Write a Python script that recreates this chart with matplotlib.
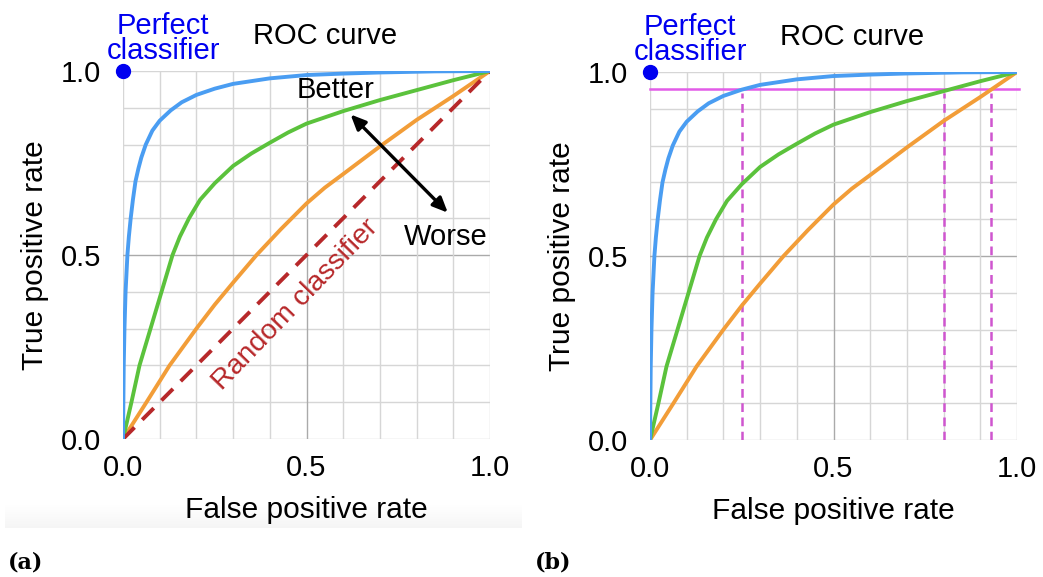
import numpy as np
import matplotlib
matplotlib.use('Agg')
import matplotlib.pyplot as plt

plt.rcParams['font.family'] = ['Liberation Sans', 'DejaVu Sans']

# ROC curves (false positive rate, true positive rate)
fpr_good = [0.0, 0.002, 0.004, 0.007, 0.012, 0.016, 0.021, 0.027, 0.034, 0.042, 0.05, 0.062, 0.08,
            0.1, 0.13, 0.16, 0.2, 0.25, 0.3, 0.4, 0.5, 0.6, 0.7, 0.85, 1.0]
tpr_good = [0.0, 0.2, 0.3, 0.4, 0.5, 0.55, 0.6, 0.65, 0.7, 0.735, 0.765, 0.8, 0.838,
            0.865, 0.893, 0.915, 0.935, 0.952, 0.965, 0.98, 0.989, 0.993, 0.996, 0.999, 1.0]

fpr_mid = [0.0, 0.023, 0.045, 0.075, 0.105, 0.12, 0.135, 0.155, 0.18, 0.21, 0.25, 0.3, 0.35,
           0.4, 0.45, 0.5, 0.6, 0.7, 0.8, 0.9, 1.0]
tpr_mid = [0.0, 0.1, 0.2, 0.3, 0.4, 0.45, 0.5, 0.55, 0.6, 0.65, 0.695, 0.742, 0.776,
           0.805, 0.833, 0.857, 0.891, 0.921, 0.948, 0.975, 1.0]

fpr_weak = [0.0, 0.064, 0.127, 0.2, 0.25, 0.3, 0.364, 0.43, 0.5, 0.55, 0.6, 0.7, 0.8, 0.9, 1.0]
tpr_weak = [0.0, 0.1, 0.2, 0.3, 0.365, 0.425, 0.5, 0.57, 0.64, 0.683, 0.72, 0.795, 0.867, 0.932, 1.0]

tpr_target = 0.953
fpr_at_target = [0.25, 0.8, 0.93]

ticks = [0.0, 0.5, 1.0]
tick_labels = ['0.0', '0.5', '1.0']

c_good = '#4a9df2'
c_mid = '#5bc23c'
c_weak = '#f29d38'
c_rand = '#b7282a'
c_perfect = '#0000f0'

fig = plt.figure(figsize=(10.43, 5.77), dpi=100)

# faint shadow strip under the left panel
shade = fig.add_axes([0.005, 1 - 528 / 577, 0.495, 24 / 577])
shade.imshow(np.linspace(0, 1, 50).reshape(-1, 1), cmap='Greys', vmin=0, vmax=12,
             aspect='auto', extent=[0, 1, 0, 1], origin='upper')
shade.axis('off')


def setup(ax):
    ax.set_xlim(0, 1)
    ax.set_ylim(0, 1)
    for s in ax.spines.values():
        s.set_visible(False)
    for v in np.arange(0, 1.01, 0.1):
        col = '#aaaaaa' if abs(v - 0.5) < 1e-6 else '#d6d6d6'
        ax.axvline(v, color=col, lw=1.0, zorder=0)
        ax.axhline(v, color=col, lw=1.0, zorder=0)
    ax.set_xticks(ticks)
    ax.set_xticklabels(tick_labels)
    ax.set_yticks(ticks)
    ax.set_yticklabels(tick_labels)
    ax.tick_params(length=0, labelsize=21, pad=11)
    ax.tick_params(axis='y', pad=16)
    ax.set_xlabel('False positive rate', fontsize=21.5, labelpad=10)
    ax.set_ylabel('True positive rate', fontsize=21.5, labelpad=8)
    ax.plot(fpr_weak, tpr_weak, color=c_weak, lw=2.8, solid_capstyle='round', zorder=3)
    ax.plot(fpr_mid, tpr_mid, color=c_mid, lw=2.8, solid_capstyle='round', zorder=3)
    ax.plot(fpr_good, tpr_good, color=c_good, lw=2.8, solid_capstyle='round', zorder=4)
    ax.plot([0], [1], 'o', color=c_perfect, ms=10, clip_on=False, zorder=5)
    ax.text(0.11, 1.088, 'Perfect\nclassifier', color=c_perfect, fontsize=21,
            ha='center', va='center', linespacing=0.85, clip_on=False)
    ax.text(0.55, 1.095, 'ROC curve', fontsize=21, ha='center', va='center', clip_on=False)


# (a) curves against the random classifier
ax1 = fig.add_axes([123 / 1043, 1 - 439 / 577, 367 / 1043, 368 / 577])
setup(ax1)
ax1.plot([0, 1], [0, 1], color=c_rand, lw=2.8, dashes=(4.2, 2.8), zorder=3)
ax1.text(0.47, 0.365, 'Random classifier', color=c_rand, fontsize=20.5, rotation=46,
         ha='center', va='center', rotation_mode='anchor')
ax1.annotate('', xy=(0.62, 0.882), xytext=(0.885, 0.615),
             arrowprops=dict(arrowstyle='<|-|>,head_length=0.9,head_width=0.4',
                             color='black', lw=2.4, shrinkA=0, shrinkB=0), zorder=6)
ax1.text(0.58, 0.948, 'Better', fontsize=21, ha='center', va='center', zorder=6)
ax1.text(0.88, 0.548, 'Worse', fontsize=21, ha='center', va='center', zorder=6)

# (b) false positive rate needed to reach a fixed true positive rate
ax2 = fig.add_axes([650 / 1043, 1 - 440 / 577, 367 / 1043, 368 / 577])
setup(ax2)
ax2.plot([0, 1.006], [tpr_target, tpr_target], color='#e25ce8', lw=1.8, clip_on=False, zorder=2)
for f in fpr_at_target:
    ax2.plot([f, f], [0, tpr_target - 0.01], color='#cf55cf', lw=1.8, dashes=(3.5, 2.2), zorder=2)

fig.text(8 / 1043, 1 - 563 / 577, '(a)', fontsize=16, fontweight='bold', family='DejaVu Serif',
         va='center', ha='left')
fig.text(535 / 1043, 1 - 563 / 577, '(b)', fontsize=16, fontweight='bold', family='DejaVu Serif',
         va='center', ha='left')

fig.savefig('out.png', dpi=100)
